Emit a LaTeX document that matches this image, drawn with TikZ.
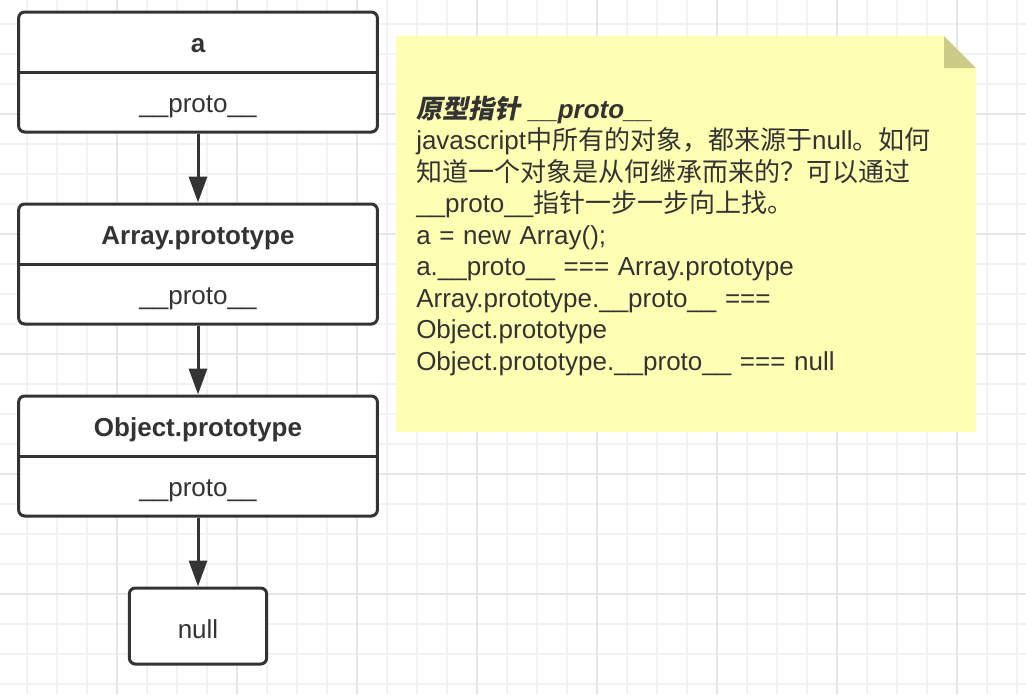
\documentclass[tikz,border=0pt]{standalone}
\usepackage{fontspec}
\setmainfont{Liberation Sans}
\newfontfamily\cjk{Noto Sans CJK SC}
\newfontfamily\cjktitle{Noto Sans CJK SC}[FakeSlant=0.2]
\usetikzlibrary{positioning,calc,arrows.meta}
\definecolor{ink}{HTML}{333333}
\definecolor{gridminor}{HTML}{F2F2F2}
\definecolor{gridmajor}{HTML}{E6E6E6}
\definecolor{notefill}{HTML}{FFFFB4}
\definecolor{notefold}{HTML}{CCCC88}
\newcommand\diagsize{\fontsize{19.5pt}{23.625pt}\selectfont}

\tikzset{
  objbox/.style={draw=ink, line width=2.25pt, rounded corners=4.5pt, fill=white,
    minimum width=269pt, minimum height=90pt, inner sep=0pt},
  nullbox/.style={objbox, minimum width=103pt, minimum height=57pt},
  lbl/.style={text=ink, inner sep=0pt, anchor=base},
  title lbl/.style={lbl, font=\diagsize\bfseries},
  link/.style={draw=ink, line width=2.25pt, -{Triangle[length=19.5pt,width=13.5pt]}},
}

\begin{document}
\begin{tikzpicture}[x=0.75pt, y=-0.75pt, node distance=51.75pt, font=\diagsize]
  \useasboundingbox (0,0) rectangle (1026,694);
  \fill[white] (0,0) rectangle (1026,694);

  % grid
  \foreach \gx in {27,57,...,1017} \draw[gridminor, line width=1.5pt] (\gx,0) -- (\gx,694);
  \foreach \gy in {24,54,...,684}  \draw[gridminor, line width=1.5pt] (0,\gy) -- (1026,\gy);
  \foreach \gx in {117,237,...,957} \draw[gridmajor, line width=1.5pt] (\gx,0) -- (\gx,694);
  \foreach \gy in {114,234,...,594} \draw[gridmajor, line width=1.5pt] (0,\gy) -- (1026,\gy);

  % prototype chain
  \node[objbox] (aBox) at (198,72) {};
  \node[objbox, below=of aBox] (arrBox) {};
  \node[objbox, below=of arrBox] (objBox) {};
  \node[nullbox, below=of objBox] (nullBox) {};

  \draw[ink, line width=2.25pt] (aBox.west) -- (aBox.east);
  \draw[ink, line width=2.25pt] (arrBox.west) -- (arrBox.east);
  \draw[ink, line width=2.25pt] (objBox.west) -- (objBox.east);

  \node[title lbl] (aName) at ($(aBox.center)+(0,-20)$) {a};
  \node[lbl] (aProto) at ($(aBox.center)+(0,40)$) {\_\_proto\_\_};
  \node[title lbl] (arrName) at ($(arrBox.center)+(0,-20)$) {Array.prototype};
  \node[lbl] (arrProto) at ($(arrBox.center)+(0,40)$) {\_\_proto\_\_};
  \node[title lbl] (objName) at ($(objBox.center)+(0,-20)$) {Object.prototype};
  \node[lbl] (objProto) at ($(objBox.center)+(0,40)$) {\_\_proto\_\_};
  \node[lbl] (nullName) at ($(nullBox.center)+(0,12)$) {null};

  \draw[link] (aBox.south) -- (arrBox.north);
  \draw[link] (arrBox.south) -- (objBox.north);
  \draw[link] (objBox.south) -- (nullBox.north);

  % note
  \fill[notefill] (396,36) -- (944,36) -- (976,68) -- (976,432) -- (396,432) -- cycle;
  \fill[notefold] (944,36) -- (944,68) -- (976,68) -- cycle;
  \node[text=ink, inner sep=0pt, anchor=base west, text width=412pt, align=left] (noteText) at (416,118)
    {{\cjktitle\bfseries 原型指针} {\bfseries\itshape\_\_proto\_\_}\\
     javascript{\cjk 中所有的对象，都来源于}null{\cjk 。如何}\\
     {\cjk 知道一个对象是从何继承而来的？可以通过}\\
     \_\_proto\_\_{\cjk 指针一步一步向上找。}\\
     a = new Array();\\
     a.\_\_proto\_\_ === Array.prototype\\
     Array.prototype.\_\_proto\_\_ ===\\
     Object.prototype\\
     Object.prototype.\_\_proto\_\_ === null};
\end{tikzpicture}
\end{document}
